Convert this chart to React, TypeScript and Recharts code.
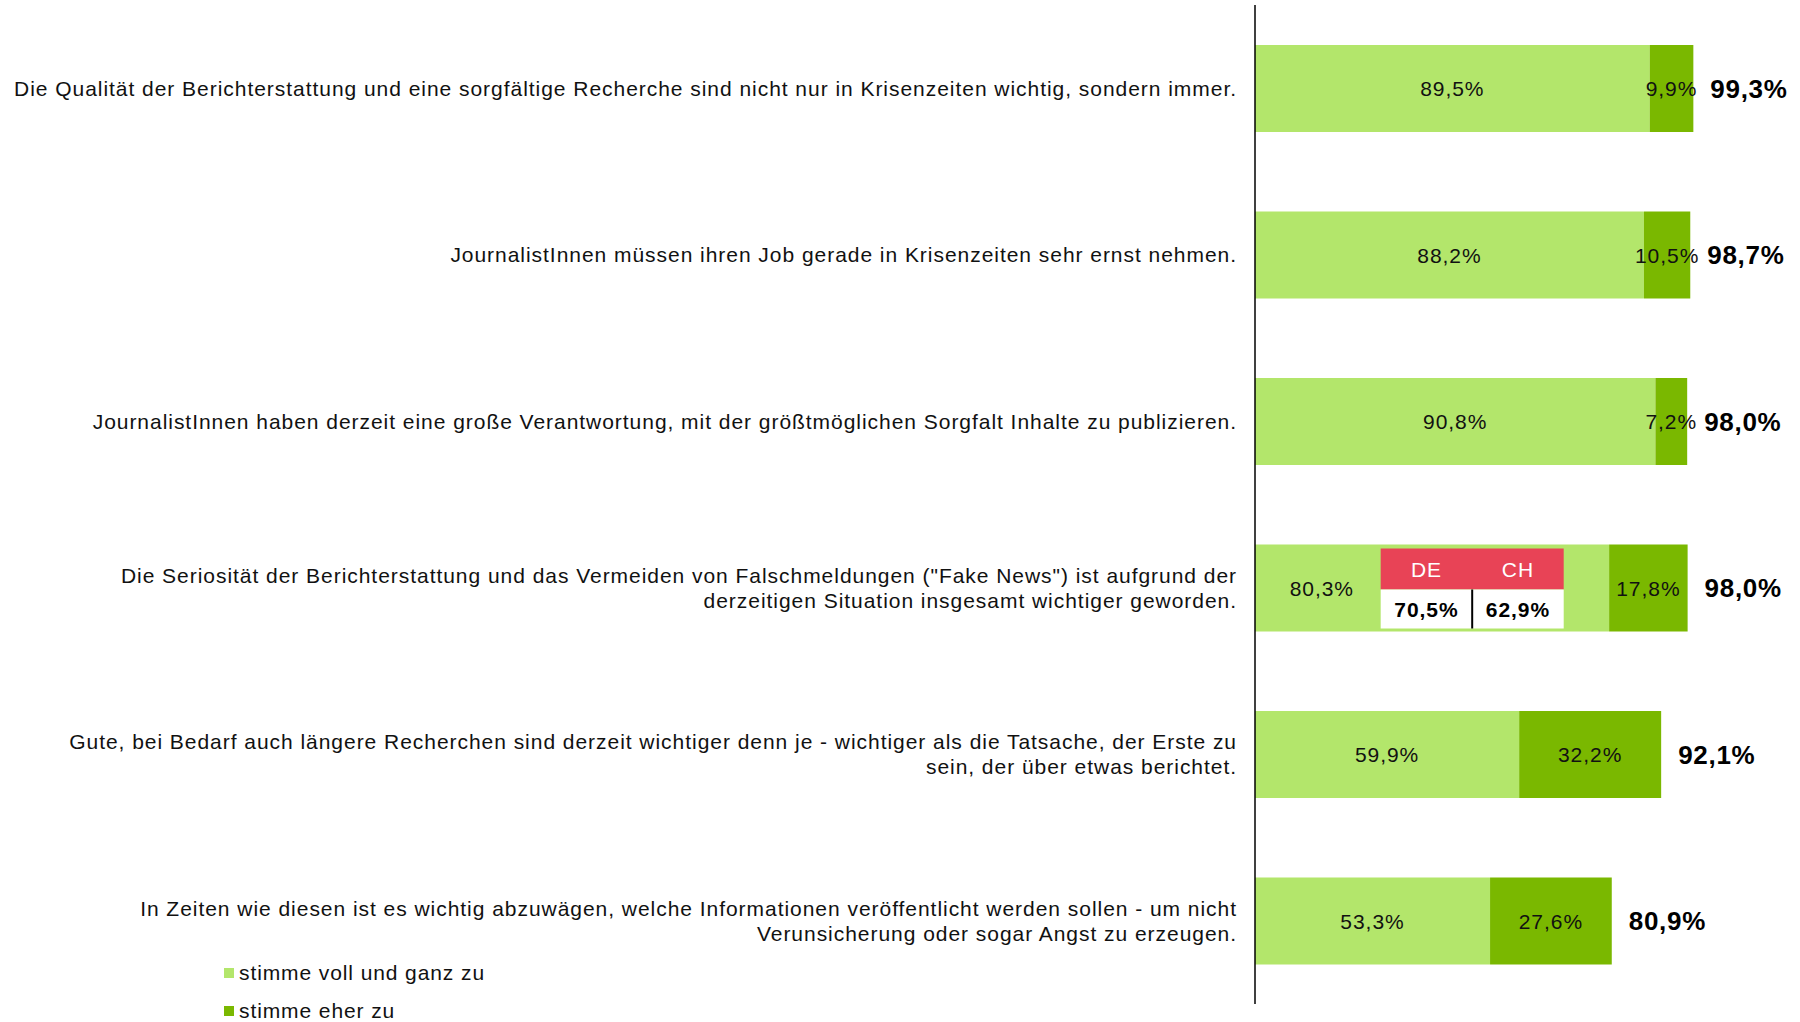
import React from 'react';
import { BarChart, Bar, XAxis, YAxis, LabelList } from 'recharts';

const categories: string[][] = [
  ['Die Qualität der Berichterstattung und eine sorgfältige Recherche sind nicht nur in Krisenzeiten wichtig, sondern immer.'],
  ['JournalistInnen müssen ihren Job gerade in Krisenzeiten sehr ernst nehmen.'],
  ['JournalistInnen haben derzeit eine große Verantwortung, mit der größtmöglichen Sorgfalt Inhalte zu publizieren.'],
  ['Die Seriosität der Berichterstattung und das Vermeiden von Falschmeldungen ("Fake News") ist aufgrund der', 'derzeitigen Situation insgesamt wichtiger geworden.'],
  ['Gute, bei Bedarf auch längere Recherchen sind derzeit wichtiger denn je - wichtiger als die Tatsache, der Erste zu', 'sein, der über etwas berichtet.'],
  ['In Zeiten wie diesen ist es wichtig abzuwägen, welche Informationen veröffentlicht werden sollen - um nicht', 'Verunsicherung oder sogar Angst zu erzeugen.'],
];
const vollUndGanz = [89.5, 88.2, 90.8, 80.3, 59.9, 53.3];
const eherZu = [9.9, 10.5, 7.2, 17.8, 32.2, 27.6];
const gesamt = [99.3, 98.7, 98.0, 98.0, 92.1, 80.9];
const seriesNames = ['stimme voll und ganz zu', 'stimme eher zu'];
const seriesColors = ['#B3E66B', '#7AB800'];
const countryLabels = ['DE', 'CH'];
const countryValues = [70.5, 62.9];
const countryRow = 3;
const countryRange = [28.5, 70];

const FONT = '"Liberation Sans", Arial, sans-serif';
const FS = 21;
const LS = 0.96;
const INK = '#111';

const data = categories.map((lines, i) => ({
  name: lines.join('\n'),
  voll: vollUndGanz[i],
  eher: eherZu[i],
  gesamt: gesamt[i],
}));

const fmt = (v: number) => v.toFixed(1).replace('.', ',') + '%';

const CategoryTick = (props: any) => {
  const { x, y, payload } = props;
  const lines = String(payload.value).split('\n');
  const lh = 25;
  const start = -((lines.length - 1) * lh) / 2;
  return (
    <g>
      {lines.map((l, i) => (
        <text
          key={i}
          x={x}
          y={y + start + i * lh}
          textAnchor="end"
          dominantBaseline="central"
          fontFamily={FONT}
          fontSize={FS}
          letterSpacing={LS}
          fill={INK}
        >
          {l}
        </text>
      ))}
    </g>
  );
};

const VollLabel = (props: any) => {
  const { x, y, width, height, value, index } = props;
  const cy = y + height / 2;
  if (index === countryRow) {
    const ppu = width / value;
    const x0 = x + countryRange[0] * ppu;
    const x1 = x + countryRange[1] * ppu;
    const mid = (x0 + x1) / 2;
    const top = y + 4;
    const headH = 41;
    const bottom = y + height - 3;
    return (
      <g>
        <text x={(x + x0) / 2 + 4} y={cy} textAnchor="middle" dominantBaseline="central" fontFamily={FONT} fontSize={FS} letterSpacing={LS} fill={INK}>
          {fmt(value)}
        </text>
        <rect x={x0} y={top} width={x1 - x0} height={headH} fill="#E84356" />
        <rect x={x0} y={top + headH} width={x1 - x0} height={bottom - top - headH} fill="#ffffff" />
        <line x1={mid} x2={mid} y1={top + headH} y2={bottom} stroke="#000" strokeWidth={2} />
        {countryLabels.map((c, i) => {
          const cx = i === 0 ? (x0 + mid) / 2 : (mid + x1) / 2;
          return (
            <g key={c}>
              <text x={cx} y={top + headH / 2} textAnchor="middle" dominantBaseline="central" fontFamily={FONT} fontSize={FS} letterSpacing={LS} fill="#ffffff">
                {c}
              </text>
              <text x={cx} y={(top + headH + bottom) / 2} textAnchor="middle" dominantBaseline="central" fontFamily={FONT} fontSize={FS} fontWeight="bold" letterSpacing={LS} fill="#000">
                {fmt(countryValues[i])}
              </text>
            </g>
          );
        })}
      </g>
    );
  }
  return (
    <text x={x + width / 2} y={cy} textAnchor="middle" dominantBaseline="central" fontFamily={FONT} fontSize={FS} letterSpacing={LS} fill={INK}>
      {fmt(value)}
    </text>
  );
};

const EherLabel = (props: any) => {
  const { x, y, width, height, value } = props;
  return (
    <text x={x + width / 2} y={y + height / 2} textAnchor="middle" dominantBaseline="central" fontFamily={FONT} fontSize={FS} letterSpacing={LS} fill={INK}>
      {fmt(value)}
    </text>
  );
};

const TotalLabel = (props: any) => {
  const { x, y, width, height, value } = props;
  return (
    <text x={x + width + 17} y={y + height / 2} textAnchor="start" dominantBaseline="central" fontFamily={FONT} fontSize={26} fontWeight="bold" letterSpacing={0.7} fill="#000">
      {fmt(value)}
    </text>
  );
};

export default function App() {
  return (
    <div style={{ position: 'relative', width: 1800, height: 1022, background: '#fff' }}>
      <style>{`body{margin:0}`}</style>
      <BarChart
        width={1800}
        height={1022}
        data={data}
        layout="vertical"
        margin={{ top: 5, right: 104, bottom: 18, left: 0 }}
      >
        <XAxis type="number" domain={[0, 100]} hide />
        <YAxis
          type="category"
          dataKey="name"
          width={1255}
          tickLine={false}
          tickSize={0}
          tickMargin={18}
          axisLine={{ stroke: '#000', strokeWidth: 1.5 }}
          tick={<CategoryTick />}
          interval={0}
        />
        <Bar dataKey="voll" name={seriesNames[0]} stackId="a" fill={seriesColors[0]} barSize={87} isAnimationActive={false}>
          <LabelList dataKey="voll" content={<VollLabel />} />
        </Bar>
        <Bar dataKey="eher" name={seriesNames[1]} stackId="a" fill={seriesColors[1]} barSize={87} isAnimationActive={false}>
          <LabelList dataKey="eher" content={<EherLabel />} />
          <LabelList dataKey="gesamt" content={<TotalLabel />} />
        </Bar>
      </BarChart>
      <div style={{ position: 'absolute', left: 224, top: 954, fontFamily: FONT, fontSize: FS, letterSpacing: 0.9, color: INK }}>
        {seriesNames.map((n, i) => (
          <div key={n} style={{ display: 'flex', alignItems: 'center', height: 38 }}>
            <span style={{ display: 'inline-block', width: 10, height: 10, background: seriesColors[i], marginRight: 5 }} />
            <span>{n}</span>
          </div>
        ))}
      </div>
    </div>
  );
}
